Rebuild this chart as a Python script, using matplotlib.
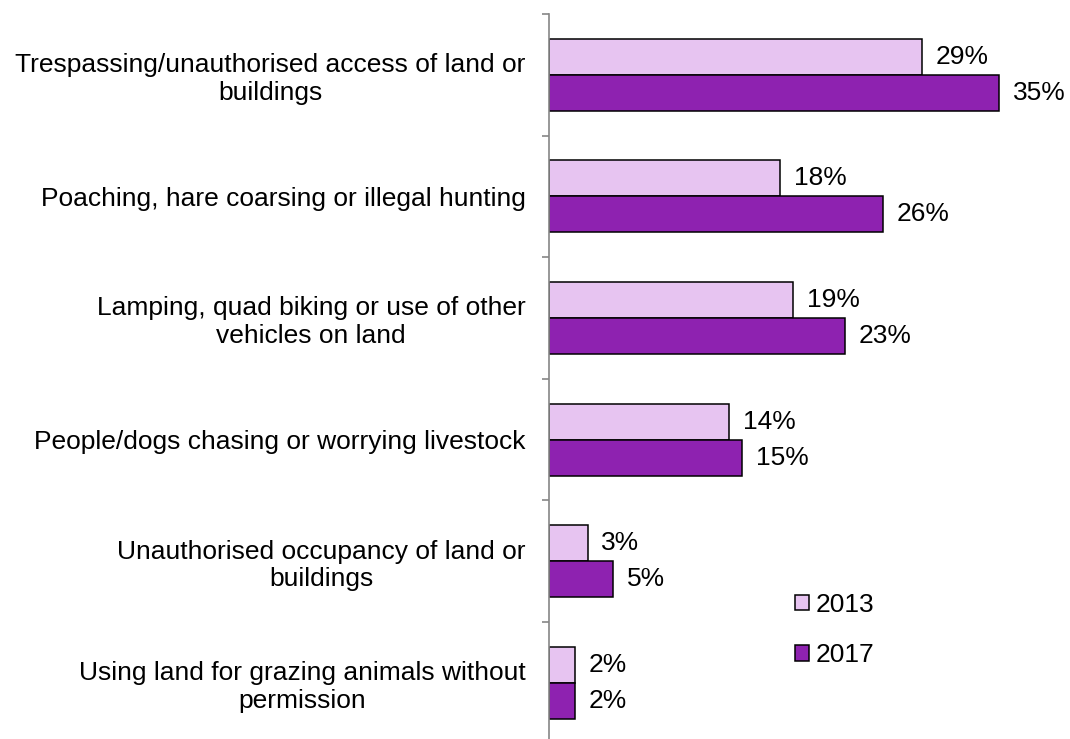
import matplotlib

matplotlib.use("Agg")
import matplotlib.pyplot as plt
import numpy as np

plt.rcParams["font.family"] = ["Liberation Sans", "DejaVu Sans"]

categories = [
    "Trespassing/unauthorised access of land or\nbuildings",
    "Poaching, hare coarsing or illegal hunting",
    "Lamping, quad biking or use of other\nvehicles on land",
    "People/dogs chasing or worrying livestock",
    "Unauthorised occupancy of land or\nbuildings",
    "Using land for grazing animals without\npermission",
]
pct_2013 = [29, 18, 19, 14, 3, 2]
pct_2017 = [35, 26, 23, 15, 5, 2]
years = ["2013", "2017"]

LIGHT = "#E7C4F1"
DARK = "#8E22B0"
FS = 19

fig = plt.figure(figsize=(10.7, 7.39), dpi=100)
ax = fig.add_axes([0.5131, -0.006, 0.4804, 0.987])

y = np.arange(len(categories))
h = 0.296
b1 = ax.barh(y - h / 2, pct_2013, height=h, color=LIGHT, edgecolor="black",
             linewidth=1.1, label=years[0])
b2 = ax.barh(y + h / 2, pct_2017, height=h, color=DARK, edgecolor="black",
             linewidth=1.1, label=years[1])

for bars, vals in ((b1, pct_2013), (b2, pct_2017)):
    for bar, v in zip(bars, vals):
        ax.annotate(f"{v}%", (v, bar.get_y() + bar.get_height() / 2),
                    xytext=(10, 0), textcoords="offset points",
                    ha="left", va="center", fontsize=FS)

ax.set_xlim(0, 40)
ax.set_ylim(len(categories) - 0.5, -0.5)

# category labels sit between the boundary ticks
ax.set_yticks(y)
ax.set_yticklabels(categories, fontsize=FS, multialignment="center")
ax.tick_params(axis="y", which="major", length=0, pad=17)
ax.set_yticks(np.arange(len(categories) + 1) - 0.5, minor=True)
ax.tick_params(axis="y", which="minor", length=5, color="#868686", width=1.2)

ax.set_xticks([])
for side in ("top", "right", "bottom"):
    ax.spines[side].set_visible(False)
ax.spines["left"].set_color("#868686")
ax.spines["left"].set_linewidth(1.2)

ax.legend(loc="upper left", bbox_to_anchor=(0.743, 0.1976), bbox_transform=fig.transFigure,
          frameon=False, fontsize=FS, borderpad=0, borderaxespad=0,
          handlelength=0.53, handleheight=0.53, handletextpad=0.25, labelspacing=1.0)

fig.savefig("out.png", dpi=100)
